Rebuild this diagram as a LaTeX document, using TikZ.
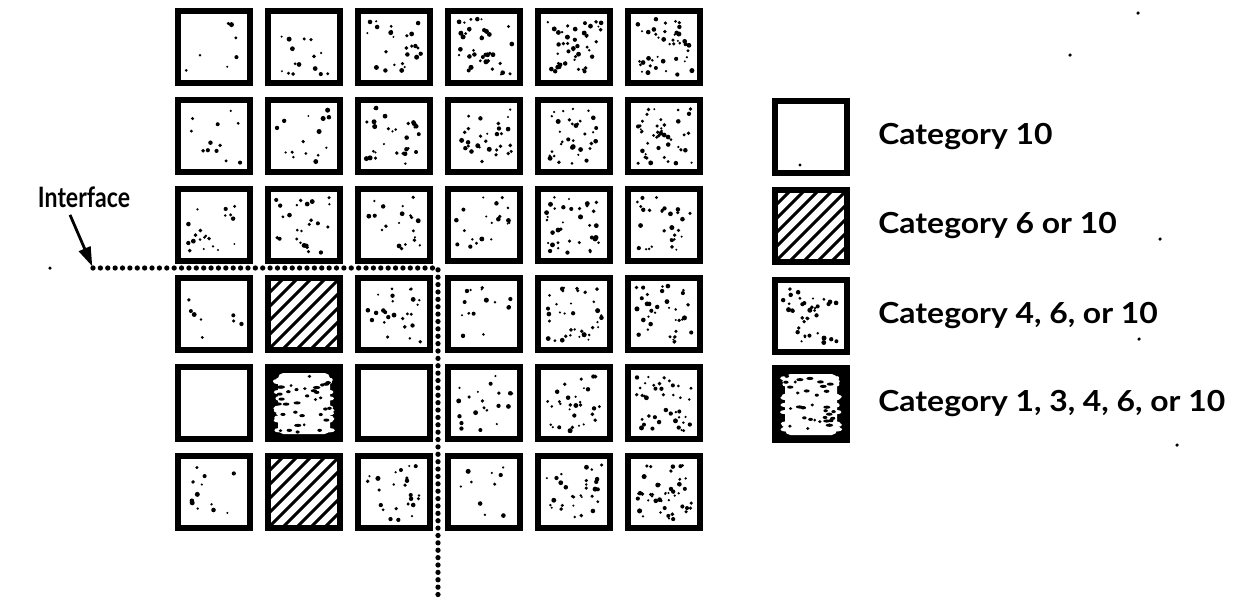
\documentclass[tikz,border=0pt]{standalone}
\usepackage{fontspec}
\setmainfont{Lato}
\usetikzlibrary{arrows.meta, positioning, calc}

\tikzset{
  cell/.style={draw, line width=3.4pt, minimum size=1.44cm, inner sep=0pt, fill=white},
  darkcell/.style={cell, fill=black},
  catlabel/.style={font=\bfseries\fontsize{16.5}{19}\selectfont, inner sep=0pt, anchor=west,
    xscale=1.1, transform shape},
  ifacelabel/.style={font=\bfseries\fontsize{16}{18}\selectfont, inner sep=0pt, xscale=0.82, transform shape},
  ifaceline/.style={line width=3pt, dash pattern=on 0pt off 4.2pt, line cap=round},
  ptr/.style={-{Triangle[length=11pt,width=7pt]}, line width=1.6pt, shorten >=1pt},
}

% random dots inside a cell
\newcommand{\speckles}[2]{%
  \foreach \k in {1,...,#2}{%
    \pgfmathsetmacro{\spx}{56*rnd-28}
    \pgfmathsetmacro{\spy}{56*rnd-28}
    \pgfmathsetmacro{\spr}{0.6+0.85*rnd}
    \fill ($(#1)+(\spx,\spy)$) circle[radius=\spr pt];
  }}

% diagonal hatching inside a cell
\newcommand{\hatch}[1]{%
  \begin{scope}
    \clip ($(#1)+(-33,-33)$) rectangle ($(#1)+(33,33)$);
    \foreach \d in {-84,-70,...,84}
      \draw[line width=1.7pt] ($(#1)+({\d-40},40)$) -- ++(80,-80);
  \end{scope}}

% white core of a dark cell
\newcommand{\blob}[1]{%
  \fill[white, rounded corners=3pt] ($(#1)+(-26,-30)$) rectangle ($(#1)+(26,31)$);
  \foreach \k in {1,...,14}{%
    \pgfmathsetmacro{\spy}{58*rnd-29}
    \fill[white] ($(#1)+(-26,\spy)$) ellipse[x radius={(1+2*rnd)*1pt}, y radius=1.2pt];
    \fill[white] ($(#1)+(26,\spy)$) ellipse[x radius={(1+2*rnd)*1pt}, y radius=1.2pt];
  }
  \foreach \k in {1,...,34}{%
    \pgfmathsetmacro{\spx}{52*rnd-26}
    \pgfmathsetmacro{\spy}{58*rnd-29}
    \pgfmathsetmacro{\spr}{0.8+1.4*rnd}
    \fill ($(#1)+(\spx,\spy)$) ellipse[x radius=\spr pt, y radius=0.9pt];
  }}

\begin{document}
\begin{tikzpicture}[x=0.02cm, y=-0.02cm]
\pgfmathsetseed{4711}
\useasboundingbox (0,0) rectangle (1241,603);

% 6 x 6 grid: kind/dots (0 empty, 1 speckled, 2 hatched, 3 dark)
\foreach \row [count=\r from 0] in {
  {1/7,1/15,1/25,1/40,1/45,1/42},
  {1/12,1/15,1/30,1/30,1/35,1/45},
  {1/20,1/25,1/20,1/20,1/35,1/30},
  {1/8,2/0,1/25,1/15,1/35,1/35},
  {0/0,3/0,0/0,1/20,1/30,1/40},
  {1/12,2/0,1/25,1/10,1/30,1/45}}{
  \foreach \kind/\num [count=\c from 0] in \row {
    \node[cell] (c\r\c) at ({214+90*\c},{47+89*\r}) {};
    \ifnum\kind=1 \speckles{c\r\c}{\num}\fi
    \ifnum\kind=2 \hatch{c\r\c}\fi
    \ifnum\kind=3
      \fill ($(c\r\c)+(-37,-37)$) rectangle ($(c\r\c)+(37,37)$);
      \blob{c\r\c}
    \fi
  }}

% legend
\node[cell] (key10) at (811,137) {};
\fill ($(key10)+(-11,28)$) circle[radius=0.9pt];
\node[cell] (key6) at (811,226) {};
\hatch{key6}
\node[cell] (key4) at (811,316) {};
\speckles{key4}{38}
\node[darkcell] (key1) at (811,404) {};
\blob{key1}

\node[catlabel, right=0.56cm of key10] (lab10) {Category 10};
\node[catlabel, right=0.56cm of key6] (lab6) {Category 6 or 10};
\node[catlabel, right=0.56cm of key4] (lab4) {Category 4, 6, or 10};
\node[catlabel, right=0.56cm of key1] (lab1) {Category 1, 3, 4, 6, or 10};

% interface
\node[ifacelabel] (iface) at (84,197) {Interface};
\coordinate (ifA) at (93,268);
\coordinate (ifB) at (438,268);
\coordinate (ifC) at (438,598);
\draw[ifaceline] (ifA) -- (ifB) -- (ifC);
\draw[ptr] ([xshift=-0.28cm, yshift=-4pt]iface.south) -- (ifA);

% specks
\foreach \p in {(50,268),(1138,13),(1070,55),(1160,239),(1139,339),(1177,445)}
  \fill \p circle[radius=1pt];
\end{tikzpicture}
\end{document}
